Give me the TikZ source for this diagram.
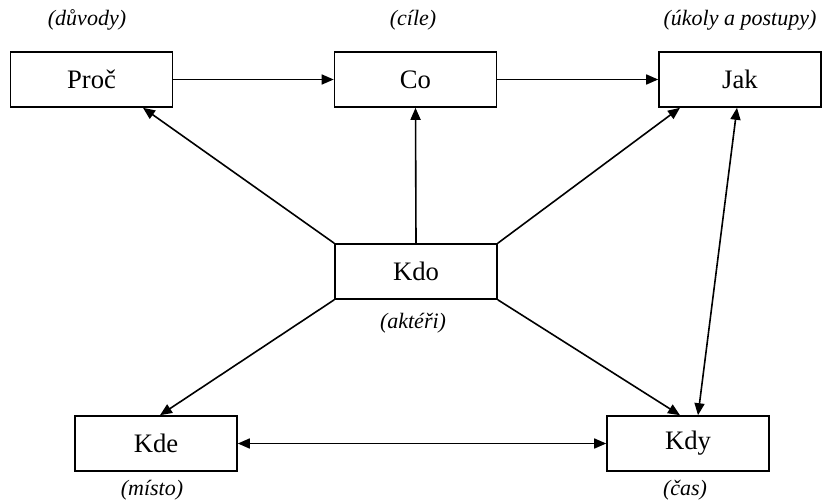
\documentclass[tikz,border=0pt]{standalone}
\usepackage{fontspec}
\setmainfont{Liberation Serif}
\usetikzlibrary{arrows.meta}

\tikzset{every picture/.style={line width=1.2pt}}
\tikzset{
  box/.style={draw, rectangle, minimum width=121.5pt, minimum height=41.25pt, inner sep=0pt, font=\fontsize{20}{24}\selectfont},
  lbl/.style={inner sep=0pt, font=\fontsize{16.5}{20}\selectfont\itshape},
  arr/.style={-{Triangle[length=9pt,width=7.5pt]}},
  dblarr/.style={{Triangle[length=9pt,width=7.5pt]}-{Triangle[length=9pt,width=7.5pt]}}
}

\begin{document}
\begin{tikzpicture}[x=0.75pt,y=0.75pt,yscale=-1,xscale=1]
\useasboundingbox (0,0) rectangle (824,503);

% boxes
\node[box] (proc) at (91.5,79.5) {Proč};
\node[box] (co) at (415.5,79.5) {Co};
\node[box] (jak) at (740,79.5) {Jak};
\node[box] (kdo) at (416,271.5) {Kdo};
\node[box] (kde) at (156,443.5) {Kde};
\node[box] (kdy) at (688,443.5) {Kdy};

% labels
\node[lbl] (proclbl) at (87,20) {(důvody)};
\node[lbl] (colbl) at (413,20) {(cíle)};
\node[lbl] (jaklbl) at (740,20) {(úkoly a postupy)};
\node[lbl] (kdolbl) at (413,323) {(aktéři)};
\node[lbl] (kdelbl) at (152,490) {(místo)};
\node[lbl] (kdylbl) at (685,490) {(čas)};

% connectors
\draw[arr] (proc.east) -- (co.west);
\draw[arr] (co.east) -- (jak.west);
\draw[arr] (kdo.north west) -- ([xshift=38.6pt]proc.south);
\draw[arr] (kdo.north) -- (co.south);
\draw[arr] (kdo.north east) -- ([xshift=-45pt]jak.south);
\draw[dblarr] ([xshift=-2.25pt]jak.south) -- ([xshift=7.5pt]kdy.north);
\draw[arr] (kdo.south west) -- ([xshift=3pt]kde.north);
\draw[arr] (kdo.south east) -- ([xshift=-6pt]kdy.north);
\draw[dblarr] (kde.east) -- (kdy.west);

\end{tikzpicture}
\end{document}
